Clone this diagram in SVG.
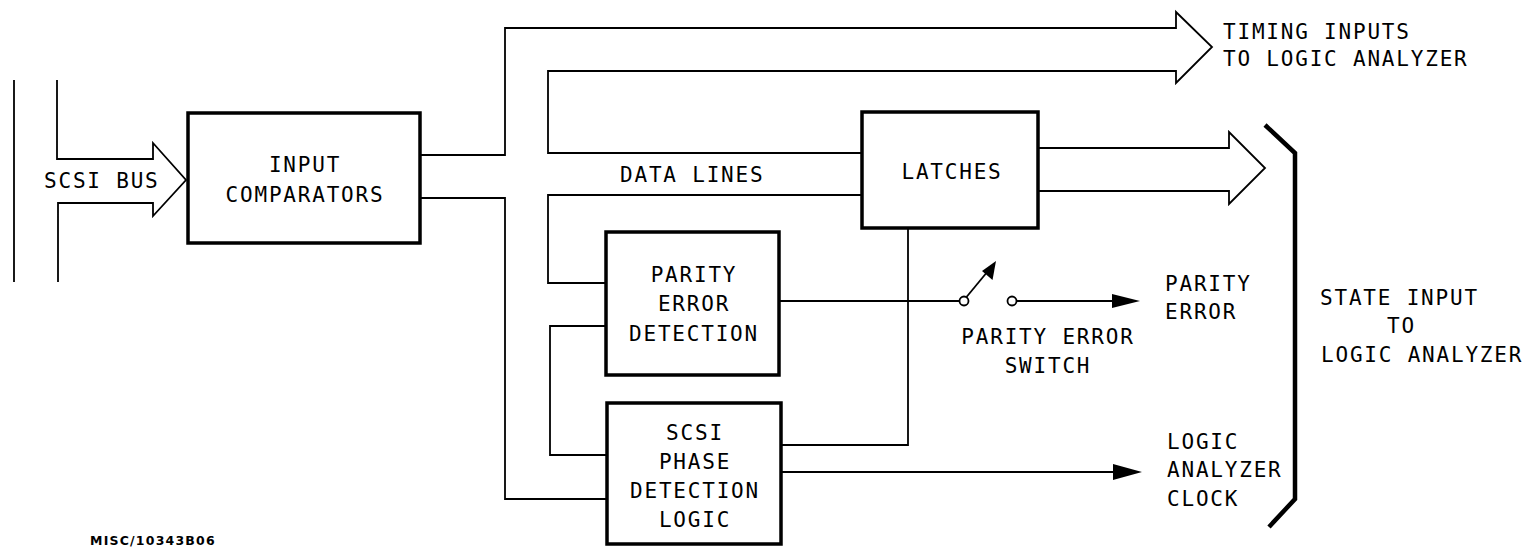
<svg xmlns="http://www.w3.org/2000/svg" width="1540" height="547" viewBox="0 0 1540 547">
<style>
text{font-family:"DejaVu Sans Mono","Liberation Mono",monospace;font-size:21px;letter-spacing:1.8px;fill:#000}
.c{text-anchor:middle}
.box{fill:#fff;stroke:#000;stroke-width:3.5}
.ln{fill:none;stroke:#000;stroke-width:1.8;stroke-linejoin:miter}
.br{fill:none;stroke:#000;stroke-width:4.5}
.ah{fill:#000;stroke:none}
.note{font-family:"DejaVu Sans","Liberation Sans",sans-serif;font-weight:bold;font-size:12.5px;letter-spacing:1.2px}
</style>
<rect width="1540" height="547" fill="#fff"/>
<g id="connectors">
  <line class="ln" x1="14" y1="80" x2="14" y2="282"/>
  <path class="ln" d="M57,80 V159 H153 V143 L186,180 L153,216 V203 H58 V282"/>
  <path class="ln" d="M420,155 H505 V28 H1176 V12 L1212,47 L1176,83 V71 H548 V153 H862"/>
  <path class="ln" d="M862,195 H548 V283 H606"/>
  <path class="ln" d="M420,198 H505 V499 H607"/>
  <path class="ln" d="M606,326 H550 V455 H607"/>
  <path class="ln" d="M1038,148 H1229 V132 L1265,168 L1229,204 V191 H1038"/>
  <path class="ln" d="M908,228 V445 H781"/>
  <line class="ln" x1="779" y1="301" x2="959.5" y2="301"/>
  <circle class="ln" cx="964" cy="301" r="4.5" fill="#fff"/>
  <line class="ln" x1="966.5" y1="297" x2="988" y2="271"/>
  <polygon class="ah" points="996,261 992.5,280 982,271"/>
  <circle class="ln" cx="1012" cy="301" r="4.5" fill="#fff"/>
  <line class="ln" x1="1016.5" y1="301" x2="1115" y2="301"/>
  <polygon class="ah" points="1112,294 1140,301 1112,308"/>
  <line class="ln" x1="781" y1="472" x2="1115" y2="472"/>
  <polygon class="ah" points="1113,464 1142,472 1113,480"/>
  <path class="br" d="M1265,125 L1295,153 V499 L1269,527"/>
</g>
<g id="input-comparators">
  <rect class="box" x="188" y="113" width="232" height="130"/>
  <text class="c" x="305" y="172">INPUT</text>
  <text class="c" x="305" y="202">COMPARATORS</text>
</g>
<g id="latches">
  <rect class="box" x="862" y="112" width="176" height="116"/>
  <text class="c" x="952" y="179">LATCHES</text>
</g>
<g id="parity-error-detection">
  <rect class="box" x="606" y="232" width="173" height="143"/>
  <text class="c" x="694" y="282">PARITY</text>
  <text class="c" x="694" y="311">ERROR</text>
  <text class="c" x="694" y="341">DETECTION</text>
</g>
<g id="scsi-phase-detection-logic">
  <rect class="box" x="607" y="403" width="174" height="141"/>
  <text class="c" x="695" y="440">SCSI</text>
  <text class="c" x="695" y="469">PHASE</text>
  <text class="c" x="695" y="498">DETECTION</text>
  <text class="c" x="695" y="527">LOGIC</text>
</g>
<g id="labels">
  <text x="44" y="188">SCSI BUS</text>
  <text x="620" y="182">DATA LINES</text>
  <text x="1223" y="39">TIMING INPUTS</text>
  <text x="1223" y="66">TO LOGIC ANALYZER</text>
  <text class="c" x="1048" y="344">PARITY ERROR</text>
  <text class="c" x="1048" y="373">SWITCH</text>
  <text x="1165" y="291">PARITY</text>
  <text x="1165" y="319">ERROR</text>
  <text x="1167" y="449">LOGIC</text>
  <text x="1167" y="477">ANALYZER</text>
  <text x="1167" y="506">CLOCK</text>
  <text x="1320" y="305">STATE INPUT</text>
  <text x="1387" y="333">TO</text>
  <text x="1321" y="362">LOGIC ANALYZER</text>
  <text class="note" x="90" y="545">MISC/10343B06</text>
</g>
</svg>
